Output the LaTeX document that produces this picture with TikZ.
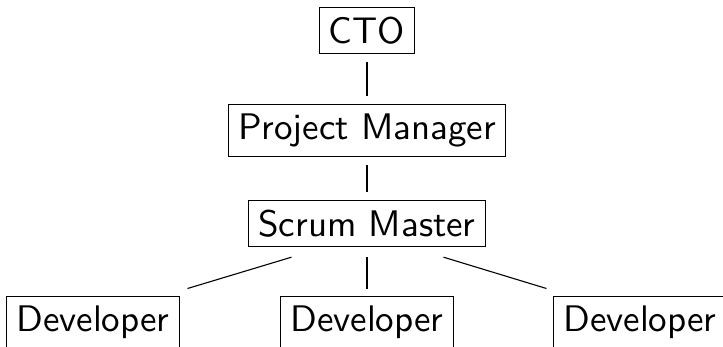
\documentclass[tikz,border=0pt]{standalone}
\usetikzlibrary{calc}
% sans text at 10pt design size, enlarged as a whole
\newcommand{\orgtext}[1]{\scalebox{3.7}{\sffamily #1}}
\tikzset{
  role/.style={draw=black, line width=0.9pt, inner sep=9.5pt, anchor=north, font=\sffamily},
  link/.style={draw=black, line width=1.1pt},
  vlink/.style={link, shorten <=8pt, shorten >=8pt}
}
\begin{document}
\begin{tikzpicture}[x=1pt,y=1pt]
  \useasboundingbox (0,0) rectangle (723,346);
  \clip (0,0) rectangle (723,346);

  \node[role] (cto) at (367,339)   {\orgtext{CTO}};
  \node[role] (pm)  at (367,242)   {\orgtext{Project Manager}};
  \node[role] (sm)  at (367,146)   {\orgtext{Scrum Master}};
  \node[role] (dev1) at (93,50.5)  {\orgtext{Developer}};
  \node[role] (dev2) at (367,50.5) {\orgtext{Developer}};
  \node[role] (dev3) at (640,50.5) {\orgtext{Developer}};

  \draw[vlink] (cto.south) -- (pm.north);
  \draw[vlink] (pm.south) -- (sm.north);
  \draw[link] ($(sm.south west)+(43,-10)$) -- ($(dev1.north east)+(8,7)$);
  \draw[link] ($(sm.south)+(0,-10)$) -- ($(dev2.north)+(0,7)$);
  \draw[link] ($(sm.south east)+(-42,-10)$) -- ($(dev3.north west)+(-7,7)$);
\end{tikzpicture}
\end{document}
